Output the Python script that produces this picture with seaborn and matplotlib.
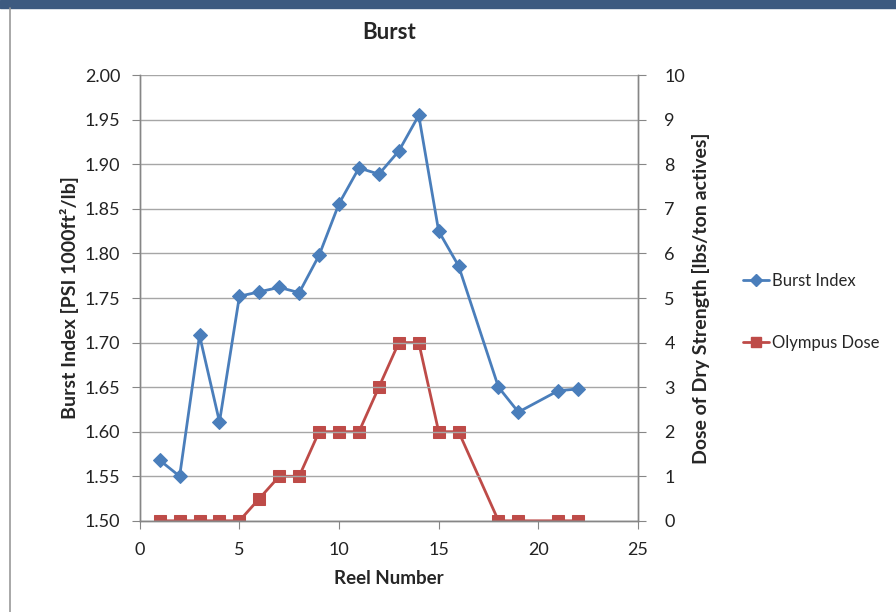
import numpy as np
import matplotlib
matplotlib.use("Agg")
import matplotlib.pyplot as plt
import seaborn as sns
from matplotlib.patches import Rectangle
from matplotlib.lines import Line2D

# --- data ---
reels = [1, 2, 3, 4, 5, 6, 7, 8, 9, 10, 11, 12, 13, 14, 15, 16, 18, 19, 21, 22]
burst_index = [1.568, 1.550, 1.708, 1.611, 1.752, 1.757, 1.762, 1.756, 1.798, 1.856,
               1.896, 1.889, 1.915, 1.955, 1.825, 1.786, 1.650, 1.622, 1.646, 1.648]
olympus_dose = [0, 0, 0, 0, 0, 0.5, 1, 1, 2, 2, 2, 3, 4, 4, 2, 2, 0, 0, 0, 0]

blue = "#4A7EBB"
red = "#BE4B48"
grid_col = "#A6A6A6"
axis_col = "#868686"

sns.set_style("white")
plt.rcParams["font.family"] = ["Lato", "DejaVu Sans"]

fig = plt.figure(figsize=(8.96, 6.12), dpi=100)
ax = fig.add_axes([0.156, 0.149, 0.556, 0.728])
ax2 = ax.twinx()

# window decoration: dark strip on top, grey edge on the left
fig.patches.append(Rectangle((0, 0.987), 1, 0.013, transform=fig.transFigure,
                             color="#3D5A80", zorder=0))
fig.add_artist(Line2D([0.011, 0.011], [0, 0.987], transform=fig.transFigure,
                      color="#9A9A9A", lw=1.2))

sns.lineplot(x=reels, y=burst_index, ax=ax, color=blue, marker="D", markersize=7,
             markeredgecolor=blue, linewidth=2, label="Burst Index", legend=False)
sns.lineplot(x=reels, y=olympus_dose, ax=ax2, color=red, marker="s", markersize=8,
             markeredgecolor=red, linewidth=2, label="Olympus Dose", legend=False)

ax.set_xlim(0, 25)
ax.set_ylim(1.5, 2.0)
ax2.set_ylim(0, 10)
ax.set_xticks(range(0, 26, 5))
ax.set_yticks(np.arange(1.5, 2.001, 0.05))
ax.set_yticklabels([f"{v:.2f}" for v in np.arange(1.5, 2.001, 0.05)])
ax2.set_yticks(range(0, 11))

ax.yaxis.grid(True, color=grid_col, linewidth=1)
ax.set_axisbelow(True)
ax.set_zorder(ax2.get_zorder() + 1)
ax.patch.set_visible(False)

for a in (ax, ax2):
    a.spines["top"].set_visible(False)
    for side in ("left", "right", "bottom"):
        a.spines[side].set_color(axis_col)
        a.spines[side].set_linewidth(1)
    a.tick_params(axis="both", which="both", length=6, color=axis_col,
                  labelsize=13, labelcolor="#222222")
ax.tick_params(axis="y", left=True, pad=8)
ax.tick_params(axis="x", bottom=True, pad=9)
ax2.tick_params(axis="y", right=True, pad=13)

ax.set_title("Burst", fontsize=16, fontweight="bold", pad=26)
ax.set_xlabel("Reel Number", fontsize=13.5, fontweight="bold", labelpad=9)
ax.set_ylabel("Burst Index [PSI 1000ft²/lb]", fontsize=14, fontweight="bold", labelpad=4)
ax2.set_ylabel("Dose of Dry Strength [lbs/ton actives]", fontsize=14,
               fontweight="bold", labelpad=5)

handles = [Line2D([], [], color=blue, marker="D", markersize=6, linewidth=2),
           Line2D([], [], color=red, marker="s", markersize=7, linewidth=2)]
fig.legend(handles, ["Burst Index", "Olympus Dose"], loc="center left",
           bbox_to_anchor=(0.812, 0.49), frameon=False, fontsize=12,
           labelspacing=2.75, handlelength=1.6, handletextpad=0.15)

fig.savefig("out.png", dpi=100, facecolor="white")
